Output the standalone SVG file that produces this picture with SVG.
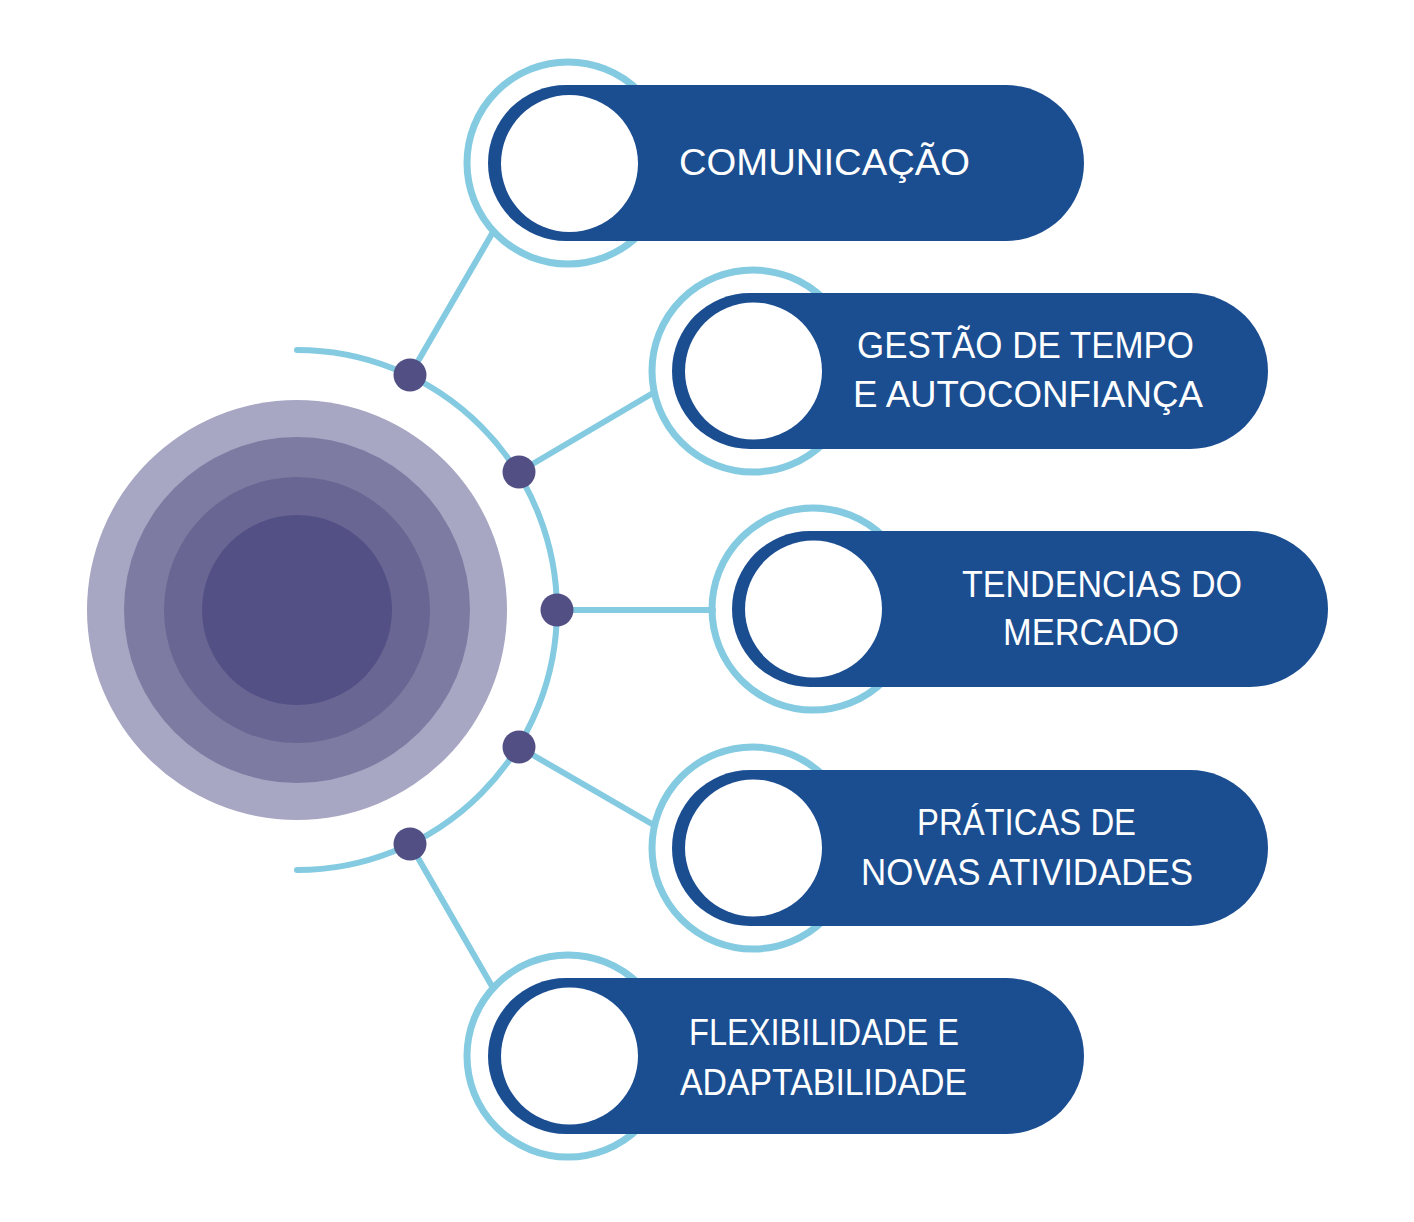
<svg xmlns="http://www.w3.org/2000/svg" width="1414" height="1222" viewBox="0 0 1414 1222">
<style>
.ring{fill:none;stroke:#84cbe2;stroke-width:7}
.pill{fill:#1b4d91}
.hole{fill:#ffffff}
.conn{fill:none;stroke:#84cbe2;stroke-width:6;stroke-linecap:round}
.dot{fill:#524f84}
.lbl{font-family:"Liberation Sans",Arial,sans-serif;font-size:36px;fill:#ffffff}
</style>
<rect width="1414" height="1222" fill="#ffffff"/>
<g id="center">
<circle cx="297" cy="610" r="210" fill="#a7a6c3"/>
<circle cx="297" cy="610" r="173" fill="#7e7ba2"/>
<circle cx="297" cy="610" r="133" fill="#696693"/>
<circle cx="297" cy="610" r="95" fill="#535085"/>
</g>
<g id="connectors">
<path class="conn" d="M297 350 A260 260 0 0 1 297 870"/>
<line class="conn" x1="410" y1="375" x2="493" y2="232"/>
<line class="conn" x1="519" y1="472" x2="653" y2="393"/>
<line class="conn" x1="557" y1="610" x2="713" y2="610"/>
<line class="conn" x1="519" y1="747" x2="652" y2="824"/>
<line class="conn" x1="410" y1="844" x2="493" y2="988"/>
</g>
<g id="dots">
<circle class="dot" cx="410" cy="375" r="16.5"/>
<circle class="dot" cx="519" cy="472" r="16.5"/>
<circle class="dot" cx="557" cy="610" r="16.5"/>
<circle class="dot" cx="519" cy="747" r="16.5"/>
<circle class="dot" cx="410" cy="844" r="16.5"/>
</g>
<g id="node1">
<circle class="ring" cx="568" cy="163" r="101"/>
<rect class="pill" x="488" y="85" width="596" height="156" rx="78"/>
<circle class="hole" cx="569.5" cy="163.5" r="68.5"/>
<text class="lbl" x="679" y="175" textLength="291" lengthAdjust="spacingAndGlyphs">COMUNICAÇÃO</text>
</g>
<g id="node2">
<circle class="ring" cx="753" cy="371" r="101"/>
<rect class="pill" x="672" y="293" width="596" height="156" rx="78"/>
<circle class="hole" cx="753.5" cy="371" r="68.5"/>
<text class="lbl" x="857" y="358" textLength="337" lengthAdjust="spacingAndGlyphs">GESTÃO DE TEMPO</text>
<text class="lbl" x="853" y="407" textLength="350" lengthAdjust="spacingAndGlyphs">E AUTOCONFIANÇA</text>
</g>
<g id="node3">
<circle class="ring" cx="813" cy="609" r="101"/>
<rect class="pill" x="732" y="531" width="596" height="156" rx="78"/>
<circle class="hole" cx="813.5" cy="609" r="68.5"/>
<text class="lbl" x="962" y="597" textLength="280" lengthAdjust="spacingAndGlyphs">TENDENCIAS DO</text>
<text class="lbl" x="1003" y="645" textLength="176" lengthAdjust="spacingAndGlyphs">MERCADO</text>
</g>
<g id="node4">
<circle class="ring" cx="753" cy="848" r="101"/>
<rect class="pill" x="672" y="770" width="596" height="156" rx="78"/>
<circle class="hole" cx="753.5" cy="848" r="68.5"/>
<text class="lbl" x="917" y="835" textLength="219" lengthAdjust="spacingAndGlyphs">PRÁTICAS DE</text>
<text class="lbl" x="861" y="885" textLength="332" lengthAdjust="spacingAndGlyphs">NOVAS ATIVIDADES</text>
</g>
<g id="node5">
<circle class="ring" cx="568" cy="1056" r="101"/>
<rect class="pill" x="488" y="978" width="596" height="156" rx="78"/>
<circle class="hole" cx="569.5" cy="1056" r="68.5"/>
<text class="lbl" x="689" y="1045" textLength="270" lengthAdjust="spacingAndGlyphs">FLEXIBILIDADE E</text>
<text class="lbl" x="680" y="1095" textLength="287" lengthAdjust="spacingAndGlyphs">ADAPTABILIDADE</text>
</g>
</svg>
